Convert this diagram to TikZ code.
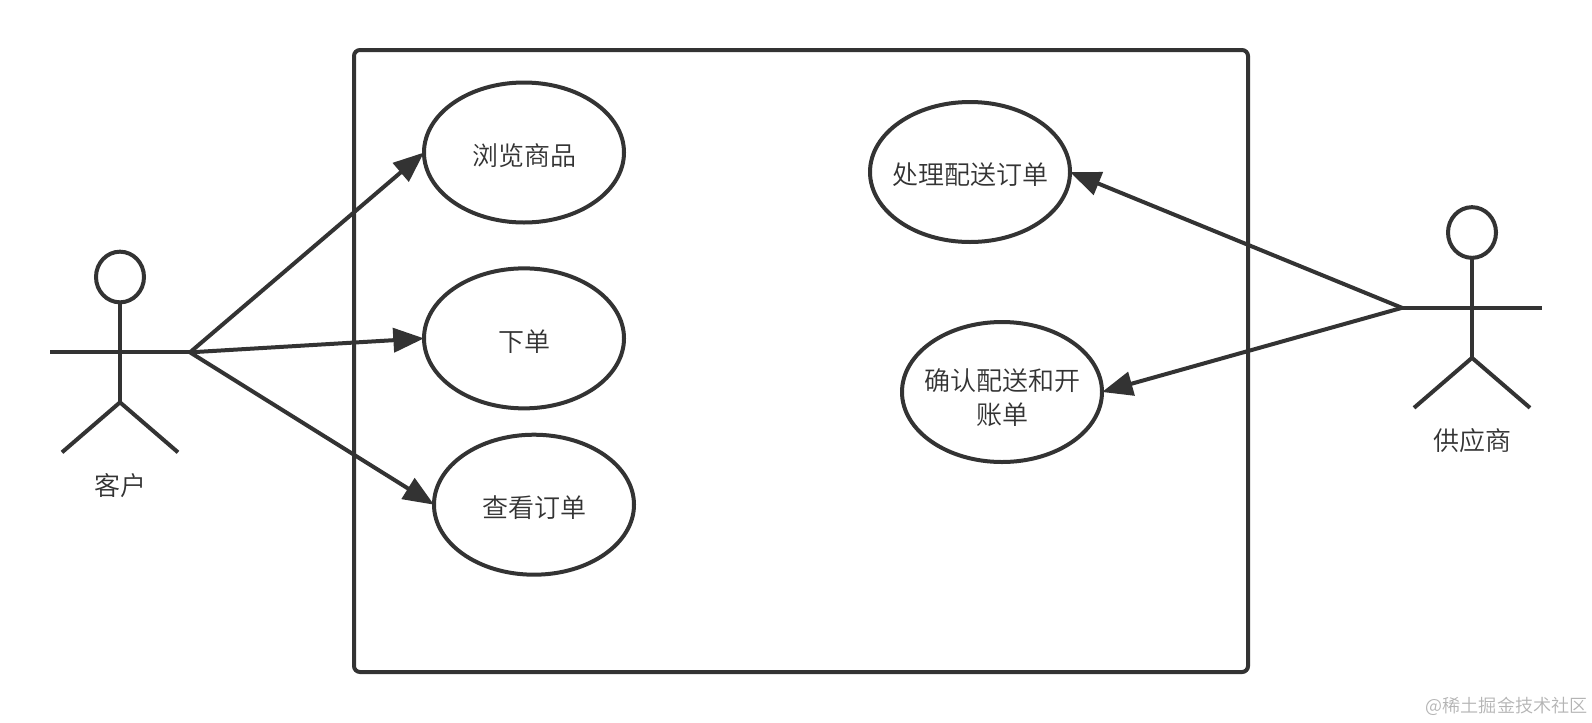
\documentclass[tikz,border=0pt]{standalone}
\usepackage{fontspec}
\setmainfont{Noto Sans CJK SC DemiLight}
\usepackage{tikz}
\usetikzlibrary{shapes}
\usetikzlibrary{positioning}
\usetikzlibrary{arrows.meta}
\definecolor{ink}{HTML}{333333}
\definecolor{mark}{HTML}{B4B4B4}
\tikzstyle{usecase} = [ellipse,draw=ink,line width=3pt,inner xsep=-6pt,inner ysep=0pt,outer sep=0pt,
minimum width=150pt,minimum height=105pt,text=ink,align=center,text height=21pt,
font=\fontsize{19.5}{25.5}\selectfont]
\tikzstyle{head} = [ellipse,draw=ink,line width=3pt,inner sep=0pt,outer sep=0pt,
minimum width=36pt,minimum height=38pt]
\tikzstyle{limb} = [draw=ink,line width=3pt]
\tikzstyle{actorname} = [text=ink,inner sep=0pt,font=\fontsize{19.5}{25}\selectfont]
\tikzset{>={Triangle[length=23pt,width=18pt]}}
\newcommand{\actor}[3]{ %
  % Head at #2, all the limbs named after #1.
  \node[head] (#1) at #2 {} ;
  \coordinate[below=37.5pt of #1.south] (#1arms) ;
  \coordinate[below=75pt of #1.south] (#1hip) ;
  \coordinate[left=52.5pt of #1arms] (#1handl) ;
  \coordinate[right=52.5pt of #1arms] (#1handr) ;
  \coordinate[below=37.5pt of #1hip,xshift=-43.5pt] (#1footl) ;
  \coordinate[below=37.5pt of #1hip,xshift=43.5pt] (#1footr) ;
  \draw[limb] (#1.south) -- (#1hip) ;
  \draw[limb] (#1handl) -- (#1handr) ;
  \draw[limb] (#1footl) -- (#1hip) -- (#1footr) ;
  \node[actorname, below=53pt of #1hip] (#1name) {#3} ; %
}
\newcommand{\assoc}[2]{ %
  \foreach \y in {#2} { %
    \draw[->,limb] (#1) -- (\y) ;%
  } ;
}

\begin{document}
\begin{tikzpicture}[x=.75pt,y=-.75pt]
	\useasboundingbox (0,0) rectangle (1592,722);
	\node[rectangle,draw=ink,line width=3pt,rounded corners=4.5pt,inner sep=0pt,outer sep=0pt,
		minimum width=670.5pt,minimum height=466.5pt] (system) at (801,361) {};

	\node[usecase] (browse) at (524,152.5) {浏览商品} ; %
	\node[usecase, below=34.4pt of browse] (order) {下单} ; %
	\node[usecase, below=19.75pt of order,xshift=7.5pt] (view) {查看订单} ; %
	\node[usecase] (ship) at (970,172) {处理配送订单} ; %
	\node[usecase, text height=50pt, below=60pt of ship,xshift=24pt] (confirm) {确认配送和开\\账单} ; %

	\actor{customer}{(120,277)}{客户}
	\actor{supplier}{(1472,232.5)}{供应商}

	\assoc{customerhandr}{browse.west,order.west,view.west}
	\assoc{supplierhandl}{ship.east,confirm.east}

	\node[text=mark,inner sep=0pt,anchor=east,font=\fontsize{13.6}{13.6}\selectfont] (stamp) at (1588,706) {@稀土掘金技术社区} ; %
\end{tikzpicture}
\end{document}
